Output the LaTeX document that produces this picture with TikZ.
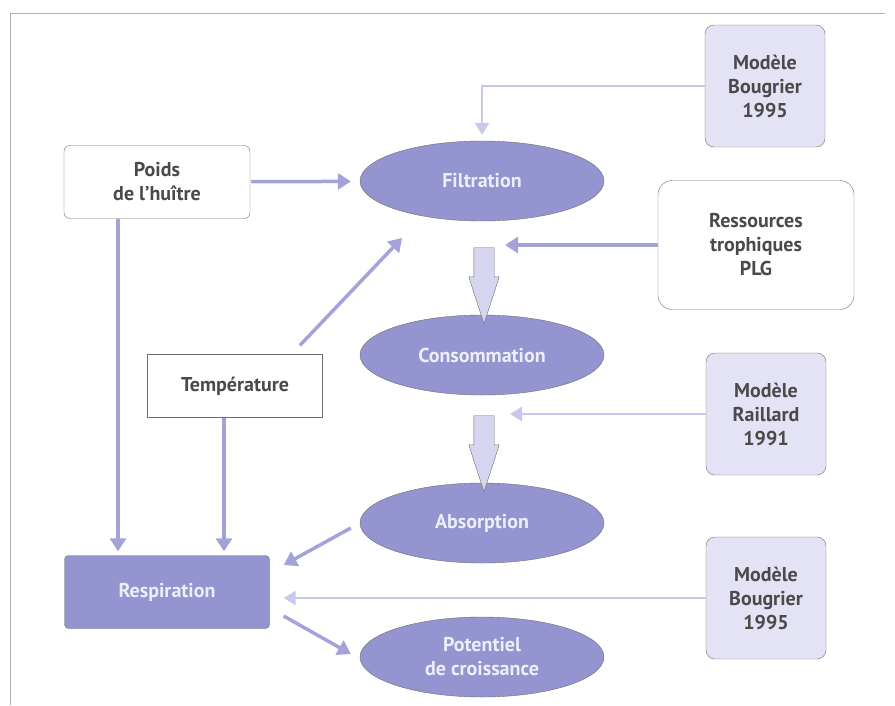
\documentclass[tikz,border=0pt]{standalone}
\usepackage{fontspec}
\setmainfont{PT Sans}
\usetikzlibrary{arrows.meta,shapes.geometric,shapes.arrows,calc}

\definecolor{flowcol}{HTML}{A3A3DA}
\definecolor{modelcol}{HTML}{C8C8EC}
\definecolor{ovalcol}{HTML}{9494D0}
\definecolor{palecol}{HTML}{E3E3F5}
\definecolor{bigcol}{HTML}{D6D6F0}
\definecolor{edgecol}{HTML}{6E6E6E}
\definecolor{inkcol}{HTML}{4A4A4A}
\definecolor{paleink}{HTML}{EEEEFA}

\begin{document}
\begin{tikzpicture}[x=1pt,y=-1pt,
  txt/.style={font=\bfseries\fontsize{20}{24}\selectfont,align=center,inner sep=0pt},
  box/.style={txt,draw=edgecol,fill=white,text=inkcol,rounded corners=6pt},
  model/.style={box,fill=palecol,minimum width=120pt,minimum height=122pt,rounded corners=9pt},
  oval/.style={txt,ellipse,draw=edgecol,fill=ovalcol,text=paleink,minimum width=244pt,minimum height=80pt},
  flow/.style={draw=flowcol,line width=3.5pt,-{Triangle[length=13pt,width=16pt]}},
  modelflow/.style={draw=modelcol,line width=2.5pt,-{Triangle[length=12pt,width=14pt]}},
  bigarrow/.style={single arrow,draw=edgecol,fill=bigcol,rotate=-90,inner xsep=0pt,inner ysep=10pt,
    minimum height=76pt,single arrow head extend=5pt,single arrow tip angle=36}]
  \useasboundingbox (0,0) rectangle (895,705);
  \draw[gray!60,line width=1pt] (10,705) -- (10,13) -- (885,13);

  \node[box,minimum width=186pt,minimum height=73pt] (poids) at (157,182) {Poids\\de l'huître};
  \node[box,rounded corners=0pt,minimum width=175pt,minimum height=63pt] (temp) at (235,386) {Température};
  \node[box,fill=ovalcol,text=paleink,rounded corners=4pt,minimum width=205pt,minimum height=73pt] (respiration) at (167,592) {Respiration};

  \node[oval] (filtration)   at (482,181) {Filtration};
  \node[oval] (consommation) at (482,355) {Consommation};
  \node[oval] (absorption)   at (482,523) {Absorption};
  \node[oval] (potentiel)    at (482,657) {Potentiel\\de croissance};

  \node[model] (bougrierA) at (765,86) {Modèle\\Bougrier\\1995};
  \node[box,rounded corners=14pt,minimum width=196pt,minimum height=129pt] (ressources) at (756,245) {Ressources\\trophiques\\PLG};
  \node[model] (raillard)  at (766,414) {Modèle\\Raillard\\1991};
  \node[model] (bougrierB) at (766,598) {Modèle\\Bougrier\\1995};

  \node[bigarrow] (fc) at (484,270) {};
  \node[bigarrow] (ca) at (484,438) {};

  \draw[flow,shorten >=9pt,shorten <=1pt] (poids) -- (filtration);
  \draw[flow,shorten >=4pt] ([xshift=-39pt]poids.south) -- ([xshift=-39pt]poids.south |- respiration.north);
  \draw[flow,shorten >=4pt] ([xshift=-11pt]temp.south) -- ([xshift=-11pt]temp.south |- respiration.north);
  \draw[flow] ([xshift=65pt,yshift=9pt]temp.north) -- ($(filtration)+(-80,57)$);
  \draw[flow] ([xshift=-9pt,yshift=-5pt]absorption.west) -- ([xshift=14pt,yshift=27pt]respiration.east);
  \draw[flow] ([xshift=14pt,yshift=-24pt]respiration.east) -- ([xshift=-9pt,yshift=3pt]potentiel.west);

  \draw[modelflow,shorten >=6pt] (bougrierA.west) -| (filtration.north);
  \draw[flow] (ressources.west) -- ([xshift=21pt]ressources.west -| fc.center);
  \draw[modelflow] (raillard.west) -- ([xshift=26pt]raillard.west -| ca.center);
  \draw[modelflow,shorten >=14pt] (bougrierB.west) -- (bougrierB.west -| respiration.east);
\end{tikzpicture}
\end{document}
